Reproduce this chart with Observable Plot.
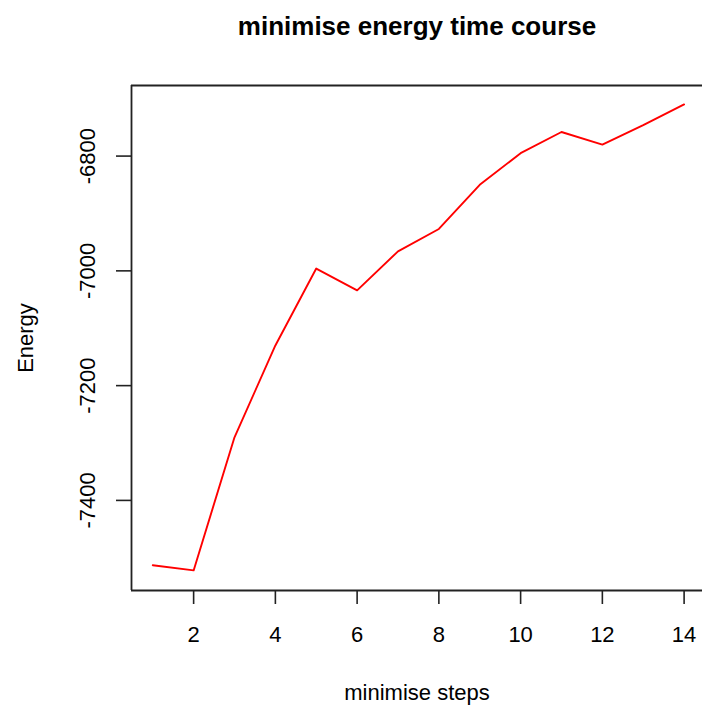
<!DOCTYPE html>
<html>
<head>
<meta charset="utf-8">
<script src="https://cdn.jsdelivr.net/npm/d3@7"></script>
<script src="https://cdn.jsdelivr.net/npm/@observablehq/plot@0.6"></script>
<style>
  html, body { margin: 0; padding: 0; background: #fff; }
</style>
</head>
<body>
<div id="chart"></div>
<script>
const steps = [1, 2, 3, 4, 5, 6, 7, 8, 9, 10, 11, 12, 13, 14];
const energy = [-7513, -7522, -7290, -7130, -6996, -7034, -6966, -6927, -6850, -6795, -6758, -6780, -6746, -6710];
const xTicks = [2, 4, 6, 8, 10, 12, 14];
const yTicks = [-7400, -7200, -7000, -6800];
const title = "minimise energy time course";
const xLabel = "minimise steps";
const yLabel = "Energy";

const data = steps.map((s, i) => ({step: s, energy: energy[i]}));
const xDomain = [0.48, 14.45];
const yDomain = [-7557, -6677];
const font = "'Liberation Sans', Arial, Helvetica, sans-serif";

const chart = Plot.plot({
  width: 702,
  height: 707,
  marginLeft: 131,
  marginRight: 0,
  marginTop: 85,
  marginBottom: 117,
  style: {fontFamily: font, fontSize: "22px", color: "#000", background: "#fff"},
  x: {domain: xDomain},
  y: {domain: yDomain},
  marks: [
    Plot.axisX({ticks: xTicks, tickSize: 14, tickPadding: 22, label: null, stroke: "#222", strokeWidth: 1.6, fontSize: 22}),
    Plot.axisY({ticks: yTicks, tickSize: 15, tickFormat: () => "", label: null, stroke: "#222", strokeWidth: 1.6}),
    Plot.text(yTicks, {y: d => d, frameAnchor: "left", text: d => String(d), rotate: -90, dx: -37, lineAnchor: "bottom", textAnchor: "middle", fontSize: 22, fill: "#000"}),
    Plot.ruleX([xDomain[0]], {stroke: "#222", strokeWidth: 1.8}),
    Plot.ruleY(yDomain, {stroke: "#222", strokeWidth: 1.8}),
    Plot.line(data, {x: "step", y: "energy", stroke: "#ff0000", strokeWidth: 1.9}),
    Plot.text([title], {frameAnchor: "top", dy: -51, lineAnchor: "bottom", fontSize: 26, fontWeight: "bold", fill: "#000"}),
    Plot.text([xLabel], {frameAnchor: "bottom", dy: 109, lineAnchor: "bottom", fontSize: 22, fill: "#000"}),
    Plot.text([yLabel], {frameAnchor: "left", rotate: -90, dx: -99, lineAnchor: "bottom", textAnchor: "middle", fontSize: 22, fill: "#000"})
  ]
});
document.getElementById("chart").appendChild(chart);
</script>
</body>
</html>
